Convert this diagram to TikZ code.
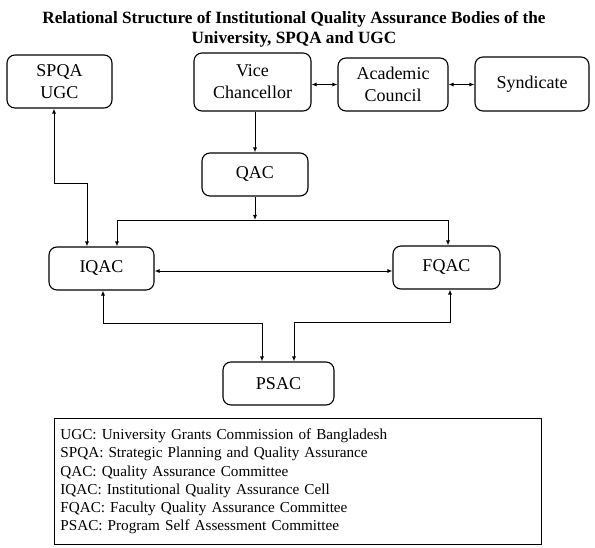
\documentclass[tikz,border=0pt]{standalone}
\usepackage{fontspec}
\setmainfont{Liberation Serif}
\usetikzlibrary{arrows.meta}

\tikzset{
  body/.style={draw, rounded corners=8pt, line width=1.1pt, align=center,
    inner sep=0pt, font=\fontsize{18}{22}\selectfont},
  link/.style={line width=0.9pt}
}

\begin{document}
\begin{tikzpicture}[x=1pt,y=-1pt,>={Latex[length=5pt,width=4pt]}]
\useasboundingbox (0,0) rectangle (595,548);

% Title
\node (title) at (294,29.5) [align=center, font=\bfseries\fontsize{17.2}{20}\selectfont]
  {Relational Structure of Institutional Quality Assurance Bodies of the\\University, SPQA and UGC};

% Bodies
\node[body, minimum width=105pt, minimum height=53pt] (spqa) at (59.5,81.5) {SPQA\\UGC};
\node[body, minimum width=117pt, minimum height=58pt] (vc) at (252.5,82) {Vice\\Chancellor};
\node[body, minimum width=110pt, minimum height=53pt] (ac) at (393,84.5) {Academic\\Council};
\node[body, minimum width=114pt, minimum height=54pt] (syn) at (532,84) {Syndicate};
\node[body, minimum width=106pt, minimum height=43pt] (qac) at (255,174.5) {QAC};
\node[body, minimum width=105pt, minimum height=43pt] (iqac) at (101.5,268.5) {IQAC};
\node[body, minimum width=107pt, minimum height=43pt] (fqac) at (446.5,267.5) {FQAC};
\node[body, minimum width=111pt, minimum height=43pt] (psac) at (278.5,383.5) {PSAC};

% Top row
\draw[link,<->] (vc.east |- ac.west) -- (ac.west);
\draw[link,<->] (ac.east) -- (ac.east -| syn.west);
\draw[link,->] (qac.north |- vc.south) -- (qac.north);

% QAC to IQAC and FQAC
\coordinate (split) at (255,220);
\draw[link,->] (qac.south) -- (split);
\draw[link,->] (split) -| ([xshift=15.5pt]iqac.north);
\draw[link,->] (split) -| ([xshift=1.5pt]fqac.north);

% SPQA, UGC
\draw[link,<->] ([xshift=-5.5pt]spqa.south) -- ++(0,75) -| ([xshift=-14.5pt]iqac.north);

% IQAC and FQAC
\draw[link,<->] ([yshift=-2.5pt]iqac.east) -- ([yshift=-2.5pt]iqac.east -| fqac.west);

% PSAC
\draw[link,<->] ([xshift=1.5pt]iqac.south) -- ++(0,33) -| ([xshift=-16.5pt]psac.north);
\draw[link,<->] ([xshift=3.5pt]fqac.south) -- ++(0,33) -| ([xshift=15.5pt]psac.north);

% Legend
\node (legend) at (54,418) [anchor=north west, draw, line width=0.8pt,
  minimum width=487pt, minimum height=126pt, text width=475pt,
  inner xsep=6pt, inner ysep=5pt, align=left, font=\fontsize{15.2}{18.2}\selectfont]
  {UGC: University Grants Commission of Bangladesh\\
   SPQA: Strategic Planning and Quality Assurance\\
   QAC: Quality Assurance Committee\\
   IQAC: Institutional Quality Assurance Cell\\
   FQAC: Faculty Quality Assurance Committee\\
   PSAC: Program Self Assessment Committee};
\end{tikzpicture}
\end{document}
